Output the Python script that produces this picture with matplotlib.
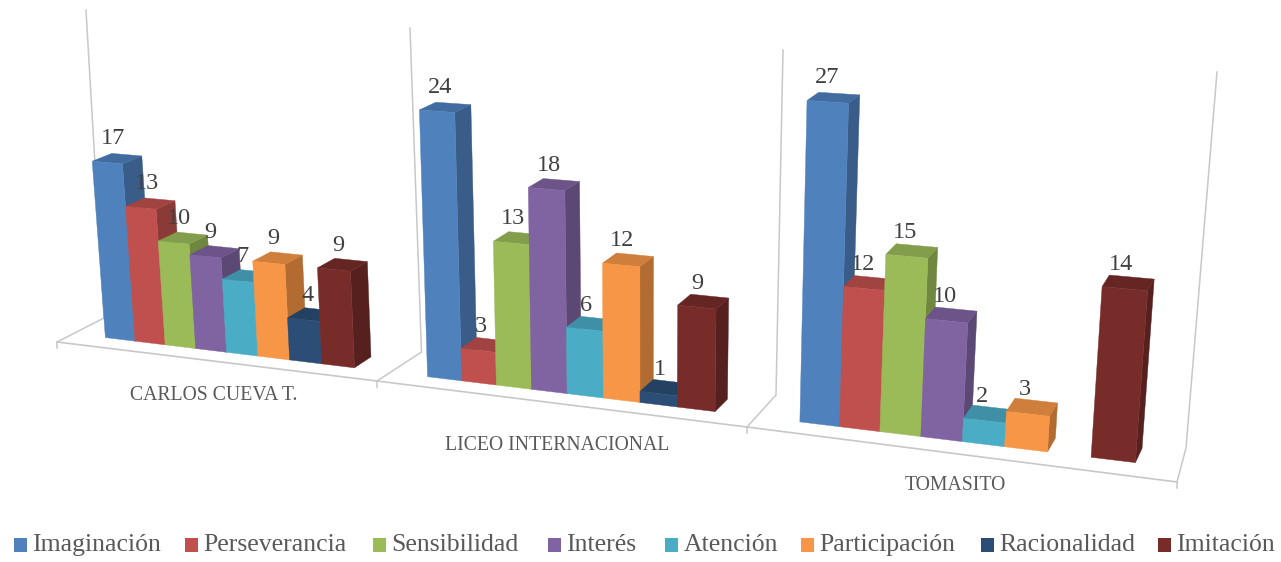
import matplotlib
matplotlib.use("Agg")
import matplotlib.pyplot as plt
from matplotlib.patches import Polygon, Rectangle
from matplotlib.colors import to_rgb

# Survey results: one list per series, one entry per school (None = no bar)
schools = ["CARLOS CUEVA T.", "LICEO INTERNACIONAL", "TOMASITO"]
series_names = ["Imaginación", "Perseverancia", "Sensibilidad", "Interés",
                "Atención", "Participación", "Racionalidad", "Imitación"]
imaginacion = [17, 24, 27]
perseverancia = [13, 3, 12]
sensibilidad = [10, 13, 15]
interes = [9, 18, 10]
atencion = [7, 6, 2]
participacion = [9, 12, 3]
racionalidad = [4, 1, None]
imitacion = [9, 9, 14]
all_series = [imaginacion, perseverancia, sensibilidad, interes,
              atencion, participacion, racionalidad, imitacion]
palette = ["#4F81BD", "#C0504D", "#9BBB59", "#8064A2",
           "#4BACC6", "#F79646", "#2C4D75", "#772C2A"]

FONT = "Liberation Serif"

# Projective camera: category position u, depth d, value h -> canvas pixels
def project(u, d, h):
    w = 1 - 0.0676 * u + 0.0326 * d - 0.00141 * h
    x = (57 + 294.5 * u + 50.4 * d - 0.908 * h) / w
    y = (342 + 13.8 * u - 13.6 * d - (10.65 - 0.08 * u) * h) / w
    return x, y

def shade(color, k):
    return tuple(c * k for c in to_rgb(color))

fig = plt.figure(figsize=(12.81, 5.62), dpi=100)
ax = fig.add_axes([0, 0, 1, 1])
ax.set_xlim(0, 1281)
ax.set_ylim(562, 0)
ax.axis("off")

# Floor edge, floor sides and wall edges of the chart box
FRAME = "#C8C8C8"
floor_front = [(57, 342), (377, 381), (747, 427), (1177, 482)]
floor_back = [(104, 318), (421.5, 352), (776, 395), (1186, 448)]
wall_tops = [(86, 10), (410, 28), (783, 50), (1217, 72)]
ax.plot(*zip(*floor_front), color=FRAME, lw=1.2, zorder=1)
for front, back, top in zip(floor_front, floor_back, wall_tops):
    ax.plot([front[0], back[0], top[0]], [front[1], back[1], top[1]],
            color=FRAME, lw=1.1, zorder=1)
    ax.plot([front[0], front[0]], [front[1], front[1] + 6], color=FRAME, lw=1.1, zorder=1)

# Bar layout inside one category band
n_series = len(all_series)
gap = 2.19
bar_w = 1 / (n_series + gap)
d0, d1 = 0.34, 0.75

z = 2
for g in range(len(schools)):
    for s, values in enumerate(all_series):
        v = values[g]
        if v is None:
            continue
        u0 = g + bar_w * (gap / 2 + s)
        u1 = u0 + bar_w
        col = palette[s]
        faces = [
            ([project(u1, d0, 0), project(u1, d1, 0), project(u1, d1, v), project(u1, d0, v)], shade(col, 0.72)),
            ([project(u0, d0, v), project(u1, d0, v), project(u1, d1, v), project(u0, d1, v)], shade(col, 0.84)),
            ([project(u0, d0, 0), project(u1, d0, 0), project(u1, d0, v), project(u0, d0, v)], to_rgb(col)),
        ]
        for pts, c in faces:
            ax.add_patch(Polygon(pts, closed=True, facecolor=c, edgecolor=c, lw=0.3, zorder=z))
        z += 1

# Value labels sit above each bar's front top edge, drawn slightly toward the view centre
for g in range(len(schools)):
    for s, values in enumerate(all_series):
        v = values[g]
        if v is None:
            continue
        uc = g + bar_w * (gap / 2 + s + 0.5)
        x, y = project(uc, d0, v)
        ax.text(x + 0.0095 * (750 - x), y - 24, str(v),
                ha="center", va="center", fontsize=17.5, family=FONT,
                color="#404040", zorder=200)

# Category names below the floor edge
cat_pos = [(214, 396), (557, 445), (955, 486)]
for name, (cx, cy) in zip(schools, cat_pos):
    ax.text(cx, cy, name, ha="center", va="center", fontsize=14.2, family=FONT, color="#595959")

# Legend row
swatch_x = [14, 185, 373, 548, 665, 801, 981, 1158]
for name, col, sx in zip(series_names, palette, swatch_x):
    ax.add_patch(Rectangle((sx, 538), 13, 14, facecolor=col, edgecolor="none"))
    ax.text(sx + 18.5, 545, name, ha="left", va="center", fontsize=18.5, family=FONT, color="#595959")

fig.savefig("out.png", dpi=100)
